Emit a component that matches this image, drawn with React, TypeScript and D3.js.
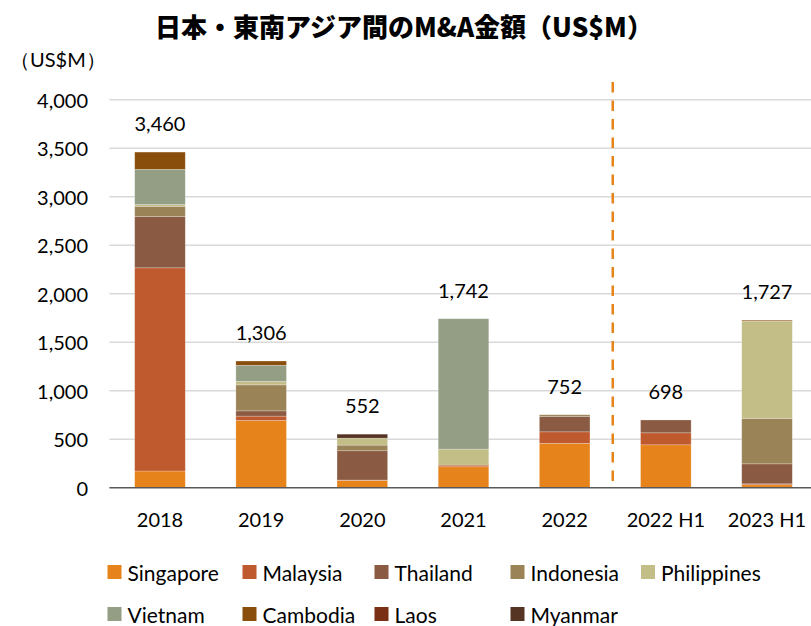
import React from "react";
import * as d3 from "d3";

const categories = ["2018", "2019", "2020", "2021", "2022", "2022 H1", "2023 H1"];
const seriesNames = ["Singapore", "Malaysia", "Thailand", "Indonesia", "Philippines", "Vietnam", "Cambodia", "Laos", "Myanmar"];
const singapore = [172, 693, 75, 216, 457, 442, 30];
const malaysia = [2095, 45, 4, 17, 119, 124, 10];
const thailand = [528, 54, 302, 0, 158, 132, 206];
const indonesia = [106, 268, 58, 0, 18, 0, 469];
const philippines = [18, 35, 72, 165, 0, 0, 1003];
const vietnam = [363, 167, 0, 1344, 0, 0, 0];
const cambodia = [178, 44, 0, 0, 0, 0, 9];
const laos = [0, 0, 0, 0, 0, 0, 0];
const myanmar = [0, 0, 41, 0, 0, 0, 0];
const totals = [3460, 1306, 552, 1742, 752, 698, 1727];
const yTicks = [0, 500, 1000, 1500, 2000, 2500, 3000, 3500, 4000];
const colors = ["#E6831A", "#BE5A2E", "#8A5A42", "#9B8358", "#C3BD87", "#949E84", "#8A4E0C", "#7A3015", "#553424"];

const seriesValues = [singapore, malaysia, thailand, indonesia, philippines, vietnam, cambodia, laos, myanmar];

export default function App() {
  const W = 811, H = 626;
  const font = "Lato, 'Noto Sans', sans-serif";
  const x = d3.scaleBand<string>().domain(categories).range([109.4, 817.6]).paddingInner(0.5).paddingOuter(0.25);
  const y = d3.scaleLinear().domain([0, 4000]).range([487.7, 99.7]);

  const rows = categories.map((c, i) => {
    const o: any = { cat: c };
    seriesNames.forEach((s, k) => (o[s] = seriesValues[k][i]));
    return o;
  });
  const stacked = d3.stack<any>().keys(seriesNames)(rows);
  const fmt = d3.format(",");

  const legendX = [107.5, 242.5, 374.5, 510.5, 641];
  const legendItems = seriesNames.map((s, k) => ({
    name: s,
    color: colors[k],
    x: legendX[k % 5],
    y: k < 5 ? 572 : 614,
  }));

  const dividerX = ((x("2022") as number) + x.bandwidth() + (x("2022 H1") as number)) / 2 - 2.5;

  return (
    <svg width={W} height={H} style={{ position: "absolute", left: 0, top: 0, background: "#fff" }}>
      <rect width={W} height={H} fill="#fff" />
      <text x={404} y={25} textAnchor="middle" dominantBaseline="central" fontFamily="'Noto Sans CJK JP', sans-serif" fontWeight={900} fontSize={26}>
        日本・東南アジア間のM&amp;A金額（US$M）
      </text>
      <text x={10} y={59} dominantBaseline="central" fontFamily={font} fontSize={20} fill="#000">
        （US$M）
      </text>
      {yTicks.map((t) => (
        <g key={t}>
          {t > 0 && <line x1={109.4} x2={W} y1={y(t)} y2={y(t)} stroke="#D9D9D9" strokeWidth={1.5} />}
          <text x={88} y={y(t)} textAnchor="end" dominantBaseline="central" fontFamily={font} fontSize={20} fill="#000">
            {fmt(t)}
          </text>
        </g>
      ))}
      {stacked.map((layer, k) => (
        <g key={layer.key} fill={colors[k]}>
          {layer.map((d, i) =>
            d[1] - d[0] > 0 ? (
              <rect
                key={i}
                x={x(categories[i])}
                width={x.bandwidth()}
                y={y(d[1])}
                height={y(d[0]) - y(d[1])}
                stroke="#ffffff"
                strokeOpacity={0.35}
                strokeWidth={0.7}
              />
            ) : null
          )}
        </g>
      ))}
      <line x1={109.4} x2={W} y1={y(0)} y2={y(0)} stroke="#595959" strokeWidth={1.5} />
      <line x1={dividerX} x2={dividerX} y1={82} y2={486} stroke="#E6831A" strokeWidth={2.5} strokeDasharray="10.5 8" />
      {categories.map((c, i) => (
        <g key={c}>
          <text x={(x(c) as number) + x.bandwidth() / 2} y={y(totals[i]) - 29} textAnchor="middle" dominantBaseline="central" fontFamily={font} fontSize={20} fill="#000">
            {fmt(totals[i])}
          </text>
          <text x={(x(c) as number) + x.bandwidth() / 2} y={519} textAnchor="middle" dominantBaseline="central" fontFamily={font} fontSize={20} fill="#000">
            {c}
          </text>
        </g>
      ))}
      {legendItems.map((l) => (
        <g key={l.name}>
          <rect x={l.x} y={l.y - 7} width={14} height={14} fill={l.color} />
          <text x={l.x + 20} y={l.y} dominantBaseline="central" fontFamily={font} fontSize={21} fill="#000">
            {l.name}
          </text>
        </g>
      ))}
    </svg>
  );
}
